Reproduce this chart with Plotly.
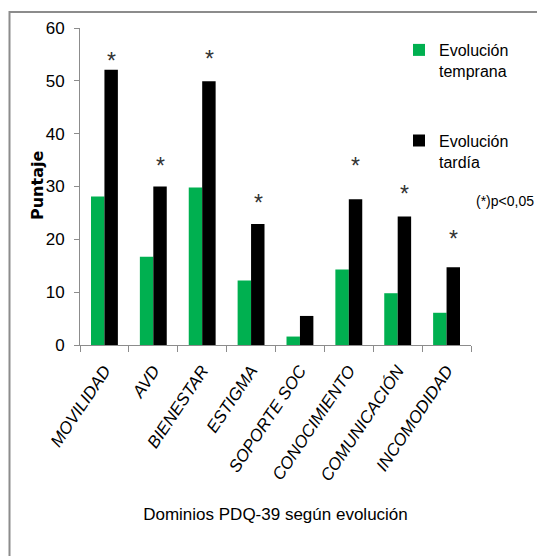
import plotly.graph_objects as go

# PDQ-39 domain scores by disease evolution
dominios = ["MOVILIDAD", "AVD", "BIENESTAR", "ESTIGMA", "SOPORTE SOC",
            "CONOCIMIENTO", "COMUNICACIÓN", "INCOMODIDAD"]
temprana = [28.1, 16.7, 29.8, 12.2, 1.6, 14.3, 9.8, 6.1]
tardia = [52.1, 30.0, 49.9, 22.9, 5.5, 27.6, 24.3, 14.7]
# significance markers (p<0.05) and the height at which each is written
signif = [True, True, True, True, False, True, True, True]
signif_y = [54.9, 35.0, 55.3, 28.0, None, 35.0, 29.8, 21.2]
y_ticks = [0, 10, 20, 30, 40, 50, 60]

W, H = 537, 556
ML, MR, MT, MB = 80, 66, 28, 211
PW, PH = W - ML - MR, H - MT - MB

def px_x(px):
    return (px - ML) / PW

def px_y(py):
    return (H - MB - py) / PH

SANS = "Liberation Sans, Arial, sans-serif"
GREEN = "#00B050"
GRID = "#8C8C8C"

fig = go.Figure()
fig.add_trace(go.Bar(x=dominios, y=temprana, name="Evolución<br>temprana",
                     marker=dict(color=GREEN, line=dict(width=0)),
                     legendgroup="a"))
fig.add_trace(go.Bar(x=dominios, y=tardia, name="Evolución<br>tardía",
                     marker=dict(color="#000000", line=dict(width=0)),
                     legendgroup="b"))

for cat, s, yv in zip(dominios, signif, signif_y):
    if s:
        fig.add_annotation(x=cat, y=yv, text="*", showarrow=False,
                           xshift=7, yshift=-6,
                           font=dict(family=SANS, size=23, color="#333333"))

fig.add_annotation(xref="paper", yref="paper", x=px_x(474), y=px_y(201),
                   xanchor="left", yanchor="middle", text="(*)p<0,05",
                   showarrow=False, font=dict(family=SANS, size=14, color="#000"))

# y-axis title placed beside the tick labels
fig.add_annotation(xref="paper", yref="paper", x=px_x(37), y=px_y(186),
                   xanchor="center", yanchor="middle", textangle=-90,
                   text="<b>Puntaje</b>", showarrow=False,
                   font=dict(family="DejaVu Sans, sans-serif", size=16, color="#000"))

# outer frame
fig.add_shape(type="rect", xref="paper", yref="paper",
              x0=px_x(9.5), y0=px_y(H + 20), x1=px_x(W + 20), y1=px_y(12),
              line=dict(color=GRID, width=2), fillcolor="rgba(0,0,0,0)",
              layer="below")

fig.update_layout(
    width=W, height=H,
    margin=dict(l=ML, r=MR, t=MT, b=MB),
    paper_bgcolor="white", plot_bgcolor="white",
    barmode="group", bargap=0.45, bargroupgap=0,
    showlegend=True,
    legend=dict(x=px_x(399), y=px_y(33), xanchor="left", yanchor="top",
                font=dict(family=SANS, size=16, color="#000"),
                bgcolor="rgba(0,0,0,0)", tracegroupgap=46,
                itemwidth=30, valign="top"),
    xaxis=dict(
        type="category", showline=True, linecolor=GRID, linewidth=1,
        ticks="outside", tickson="boundaries", ticklen=6, tickcolor=GRID,
        tickangle=-56, ticklabelstandoff=8,
        tickfont=dict(family=SANS, size=17, color="#000", style="italic"),
        title=dict(text="Dominios PDQ-39 según evolución",
                   font=dict(family=SANS, size=17, color="#000"), standoff=24),
        showgrid=False,
    ),
    yaxis=dict(
        range=[0, 60], tickvals=y_ticks, showline=True, linecolor=GRID,
        linewidth=1, ticks="outside", ticklen=5, tickcolor=GRID,
        tickfont=dict(family=SANS, size=17, color="#000"),
        ticklabelstandoff=6,
        showgrid=False, zeroline=False,
    ),
)

fig.write_html("out.html")
